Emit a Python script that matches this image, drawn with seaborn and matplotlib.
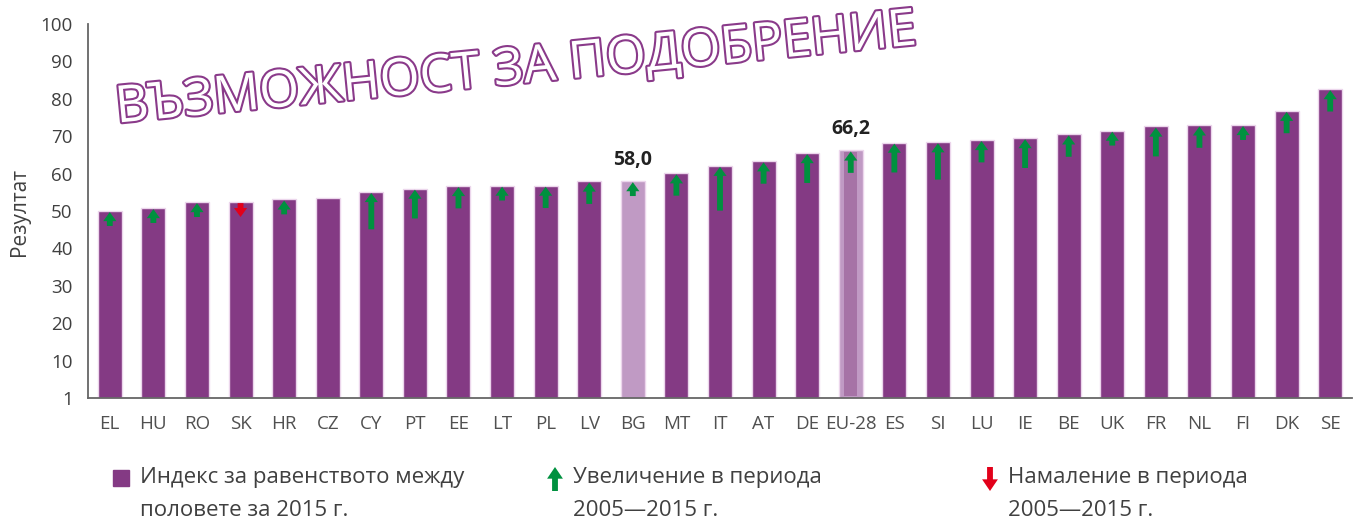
import numpy as np
import pandas as pd
import matplotlib
matplotlib.use("Agg")
import matplotlib.pyplot as plt
import matplotlib.patheffects as pe
from matplotlib.patches import Rectangle
import seaborn as sns

# Gender equality index 2015 and change 2005-2015 (arrow length, index points)
countries = ["EL", "HU", "RO", "SK", "HR", "CZ", "CY", "PT", "EE", "LT", "PL", "LV", "BG", "MT", "IT",
             "AT", "DE", "EU-28", "ES", "SI", "LU", "IE", "BE", "UK", "FR", "NL", "FI", "DK", "SE"]
index_2015 = [50.0, 50.8, 52.4, 52.4, 53.1, 53.6, 55.1, 56.0, 56.7, 56.8, 56.8, 57.9, 58.0, 60.1, 62.1,
              63.3, 65.5, 66.2, 68.3, 68.4, 69.0, 69.5, 70.5, 71.5, 72.6, 72.9, 73.0, 76.8, 82.6]
change = [4, 4, 4, -4, 4, 0, 10, 8, 6, 4, 6, 6, 4, 6, 12,
          6, 8, 6, 8, 10, 6, 8, 6, 4, 8, 6, 4, 6, 6]
labelled = {"BG": "58,0", "EU-28": "66,2"}
ytick_vals = [0, 10, 20, 30, 40, 50, 60, 70, 80, 90, 100]
ytick_labels = ["1", "10", "20", "30", "40", "50", "60", "70", "80", "90", "100"]

purple = "#843a84"
light = "#c09ac4"
inner = "#a673a6"
green = "#00913f"
red = "#e2001a"
txt = "#404040"

sns.set_style("white")
plt.rcParams['font.family'] = ['Open Sans', 'DejaVu Sans']

df = pd.DataFrame({"country": countries, "value": index_2015})
pal = {c: (light if c in labelled else purple) for c in countries}

fig = plt.figure(figsize=(13.54, 5.19), dpi=100)
ax = fig.add_axes([88 / 1354, 121 / 519, 1264 / 1354, 374 / 519])

sns.barplot(data=df, x="country", y="value", hue="country", palette=pal, legend=False,
            width=0.55, edgecolor="#ecd6ec", linewidth=1, saturation=1, ax=ax)

# darker inner stripe of the EU-28 bar
i_eu = countries.index("EU-28")
ax.bar(i_eu, index_2015[i_eu] - 1, bottom=0.5, width=0.3, color=inner, linewidth=0, zorder=3)

# change arrows
for i, (v, d) in enumerate(zip(index_2015, change)):
    if d == 0:
        continue
    if d > 0:
        start, end, col = v - d, v - 0.3, green
    else:
        start, end, col = v - 0.3, v + d, red
    ax.annotate("", xy=(i, end), xytext=(i, start),
                arrowprops=dict(arrowstyle="simple,head_length=0.65,head_width=0.95,tail_width=0.42",
                                color=col, lw=0, shrinkA=0, shrinkB=0, mutation_scale=10),
                zorder=4)

for c, s in labelled.items():
    i = countries.index(c)
    ax.annotate(s, xy=(i, index_2015[i]), xytext=(0, 8), textcoords="offset points",
                ha="center", va="bottom", fontsize=14, fontweight="bold", color="#222222")

ax.set_xlim(-0.5, len(countries) - 0.5)
ax.set_ylim(0, 100)
ax.set_yticks(ytick_vals)
ax.set_yticklabels(ytick_labels)
ax.set_xticks(range(len(countries)))
ax.set_xticklabels(countries)
ax.set_xticks(np.arange(-0.5, len(countries), 1), minor=True)
ax.tick_params(axis="x", which="major", length=0, pad=12, labelsize=13.5, labelcolor="#505050")
ax.tick_params(axis="x", which="minor", length=6, width=1.3, color="#666666", direction="out")
ax.tick_params(axis="y", length=6, width=1.3, color="#666666", labelsize=13.5, labelcolor="#404040", pad=5)
ax.set_xlabel("")
ax.set_ylabel("")
sns.despine(ax=ax)
for s in ["left", "bottom"]:
    ax.spines[s].set_color("#666666")
    ax.spines[s].set_linewidth(1.3)

fig.text(20 / 1354, 1 - 212 / 519, "Резултат", rotation=90, ha="center", va="center",
         fontsize=15, color=txt)

# title stamp
fig.text(516 / 1354, 1 - 70 / 519, "ВЪЗМОЖНОСТ ЗА ПОДОБРЕНИЕ", rotation=5.6, rotation_mode="anchor",
         ha="center", va="center", fontsize=37, color="white",
         path_effects=[pe.withStroke(linewidth=3, foreground="#8a3a8a")])

# legend
fig.patches.append(Rectangle((113 / 1354, 1 - 486 / 519), 16 / 1354, 16 / 519,
                             transform=fig.transFigure, color=purple, figure=fig))
leg_items = [(140, "Индекс за равенството между", "половете за 2015 г."),
             (573, "Увеличение в периода", "2005—2015 г."),
             (1008, "Намаление в периода", "2005—2015 г.")]
for xp, l1, l2 in leg_items:
    fig.text(xp / 1354, 1 - 478 / 519, l1, ha="left", va="center", fontsize=16, color=txt)
    fig.text(xp / 1354, 1 - 510 / 519, l2, ha="left", va="center", fontsize=16, color=txt)
for xp, y0, y1, col in [(555, 491, 467, green), (990, 467, 491, red)]:
    ax.annotate("", xy=(xp / 1354, 1 - y1 / 519), xytext=(xp / 1354, 1 - y0 / 519),
                xycoords="figure fraction", textcoords="figure fraction",
                arrowprops=dict(arrowstyle="simple,head_length=0.7,head_width=0.95,tail_width=0.35",
                                color=col, lw=0, shrinkA=0, shrinkB=0, mutation_scale=12),
                annotation_clip=False)

fig.savefig("out.png", dpi=100)
